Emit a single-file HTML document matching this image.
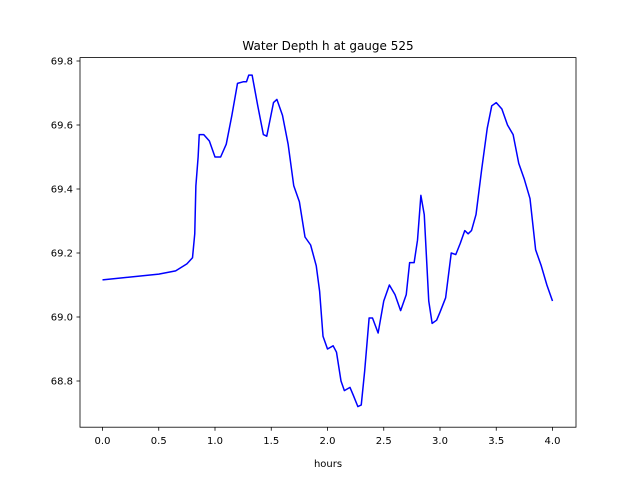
<!DOCTYPE html>
<html><head><meta charset="utf-8"><style>
body{margin:0;background:#fff;font-family:"Liberation Sans","DejaVu Sans",sans-serif}
svg text{font-family:"DejaVu Sans","Liberation Sans",sans-serif;font-size:10px;fill:#000}
</style></head><body>
<svg id="chart" width="640" height="480" xmlns="http://www.w3.org/2000/svg">
<rect width="640" height="480" fill="#fff"/>
<text x="328" y="50" text-anchor="middle" style="font-size:12px">Water Depth h at gauge 525</text>
<g id="plot"></g>
<rect x="80" y="57.6" width="496" height="369.6" fill="none" stroke="#000" stroke-width="0.8"/>
<text x="328" y="467" text-anchor="middle">hours</text>
</svg>
<script>
const hours=[0,0.5,0.65,0.75,0.8,0.82,0.83,0.85,0.86,0.9,0.95,1.0,1.05,1.1,1.15,1.2,1.25,1.28,1.3,1.33,1.38,1.43,1.46,1.52,1.55,1.6,1.65,1.7,1.75,1.8,1.85,1.9,1.93,1.96,2.0,2.05,2.08,2.12,2.15,2.2,2.23,2.27,2.3,2.33,2.37,2.4,2.45,2.5,2.55,2.6,2.65,2.7,2.73,2.77,2.8,2.83,2.86,2.9,2.93,2.97,3.0,3.05,3.1,3.14,3.18,3.22,3.25,3.28,3.32,3.37,3.42,3.46,3.5,3.55,3.6,3.65,3.7,3.75,3.8,3.85,3.9,3.95,4.0];
const depth=[69.116,69.134,69.144,69.166,69.185,69.26,69.41,69.5,69.57,69.57,69.55,69.5,69.5,69.54,69.63,69.73,69.735,69.735,69.756,69.756,69.66,69.57,69.565,69.67,69.68,69.63,69.54,69.41,69.36,69.25,69.225,69.16,69.08,68.94,68.9,68.91,68.89,68.8,68.77,68.78,68.755,68.72,68.725,68.83,68.997,68.997,68.95,69.05,69.1,69.07,69.02,69.07,69.17,69.17,69.24,69.38,69.32,69.05,68.98,68.99,69.015,69.06,69.2,69.195,69.23,69.27,69.26,69.27,69.32,69.46,69.59,69.66,69.67,69.65,69.6,69.57,69.48,69.43,69.37,69.21,69.16,69.1,69.05];
const xTicks=[0,0.5,1,1.5,2,2.5,3,3.5,4];
const xTickLabels=["0.0","0.5","1.0","1.5","2.0","2.5","3.0","3.5","4.0"];
const yTicks=[68.8,69.0,69.2,69.4,69.6,69.8];
const yTickLabels=["68.8","69.0","69.2","69.4","69.6","69.8"];
const X=v=>102.5+v*112.5;
const Y=v=>381-(v-68.8)*320;
const g=document.getElementById('plot');
const NS='http://www.w3.org/2000/svg';
function mk(t,a){const e=document.createElementNS(NS,t);for(const k in a)e.setAttribute(k,a[k]);return e;}
xTicks.forEach((t,i)=>{
 const l=mk('line',{x1:X(t),x2:X(t),y1:427.2,y2:430.7,stroke:'#000','stroke-width':0.8});
 
 
 g.appendChild(l);
 const tx=mk('text',{x:X(t),y:444,'text-anchor':'middle'});tx.textContent=xTickLabels[i];
 
 
 g.appendChild(tx);
});
yTicks.forEach((t,i)=>{
 const l=mk('line',{x1:76.5,x2:80,y1:Y(t),y2:Y(t),stroke:'#000','stroke-width':0.8});
 
 
 g.appendChild(l);
 const tx=mk('text',{x:73,y:Y(t)+3.5,'text-anchor':'end'});tx.textContent=yTickLabels[i];
 
 
 g.appendChild(tx);
});
const p=mk('polyline',{points:hours.map((h,i)=>X(h)+','+Y(depth[i])).join(' '),fill:'none',stroke:'#0000ff','stroke-width':1.5,'stroke-linejoin':'round'});


g.appendChild(p);
</script>
</body></html>
